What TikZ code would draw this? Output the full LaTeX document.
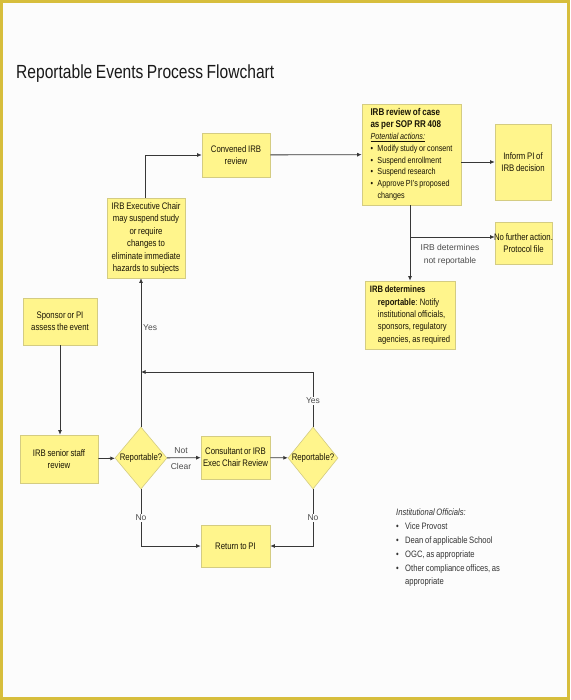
\documentclass[tikz,border=0pt]{standalone}
\usepackage{fontspec}
\setmainfont{Liberation Sans}[FakeStretch=0.82, WordSpace=0.8]
\newfontfamily\plainsans{Liberation Sans}
\usetikzlibrary{shapes.geometric,arrows.meta}
\definecolor{boxfill}{RGB}{255,245,140}
\definecolor{boxline}{RGB}{212,204,130}
\definecolor{framecol}{RGB}{215,190,60}
\definecolor{bgcol}{RGB}{252,252,252}
\definecolor{ink}{RGB}{25,20,5}
\definecolor{wirecol}{RGB}{55,55,55}
\newcommand{\rvhead}[1]{{\bfseries\fontsize{9.8}{12}\selectfont #1}}
\begin{document}
\begin{tikzpicture}[x=1pt,y=-1pt,
  box/.style={draw=boxline, fill=boxfill, line width=0.6pt, inner sep=2pt,
    align=center, text=ink, font=\fontsize{9.5}{12.2}\selectfont},
  dia/.style={diamond, draw=boxline, fill=boxfill, inner sep=0pt, line width=0.6pt,
    text=ink, font=\fontsize{9.5}{11}\selectfont},
  wire/.style={draw=wirecol, line width=0.8pt},
  arr/.style={wire, -{Latex[length=4.5pt,width=4pt]}},
  lbl/.style={font=\plainsans\fontsize{8.5}{11}\selectfont, text=black!70, inner sep=1pt},
  lblcut/.style={lbl, fill=bgcol},
]
\useasboundingbox (0,0) rectangle (570,700);
\fill[bgcol] (0,0) rectangle (570,700);
\draw[framecol, line width=3pt] (1.5,1.5) rectangle (568.5,698.5);

% title
\node[anchor=base west, inner sep=0pt, text=black!90,
  font=\fontsize{19}{22}\selectfont] (title) at (16,79) {Reportable Events Process Flowchart};

% boxes
\node[box, minimum width=68pt, minimum height=44pt] (conv) at (236,155) {Convened IRB\\review};
\node[box, minimum width=78pt, minimum height=80pt, font=\fontsize{9.5}{12.4}\selectfont] (exec) at (146,238)
  {IRB Executive Chair\\may suspend study\\or require\\changes to\\eliminate immediate\\hazards to subjects};
\node[box, minimum width=99pt, minimum height=101pt, align=left,
  font=\fontsize{8.8}{11.8}\selectfont] (review) at (411.5,154.5)
  {\rvhead{IRB review of case}\\
   \rvhead{as per SOP RR 408}\\
   \underline{\itshape Potential actions:}\\
   \makebox[7pt][l]{\textbullet}Modify study or consent\\
   \makebox[7pt][l]{\textbullet}Suspend enrollment\\
   \makebox[7pt][l]{\textbullet}Suspend research\\
   \makebox[7pt][l]{\textbullet}Approve PI's proposed\\
   \hspace*{7pt}changes};
\node[box, minimum width=56pt, minimum height=76pt] (inform) at (523,162) {Inform PI of\\IRB decision};
\node[box, minimum width=57pt, minimum height=42pt, inner sep=0pt] (nof) at (523.5,243)
  {\makebox[50pt]{No further action.}\\\makebox[50pt]{Protocol file}};
\node[box, minimum width=90pt, minimum height=68pt, align=left,
  font=\fontsize{9.3}{12.3}\selectfont] (rep) at (410,315)
  {\textbf{IRB determines}\\
   \hspace*{8pt}\textbf{reportable}: Notify\\
   \hspace*{8pt}institutional officials,\\
   \hspace*{8pt}sponsors, regulatory\\
   \hspace*{8pt}agencies, as required};
\node[box, minimum width=74pt, minimum height=47pt] (sponsor) at (60,321.5) {Sponsor or PI\\assess the event};
\node[box, minimum width=78pt, minimum height=48pt] (senior) at (59,459) {IRB senior staff\\review};
\node[dia, minimum width=52pt, minimum height=62pt] (d1) at (141,458) {\makebox[0pt]{Reportable?}};
\node[box, minimum width=69pt, minimum height=43pt] (consult) at (235.5,457.5) {Consultant or IRB\\Exec Chair Review};
\node[dia, minimum width=50pt, minimum height=62pt] (d2) at (313,458) {\makebox[0pt]{Reportable?}};
\node[box, minimum width=69pt, minimum height=42pt] (ret) at (235.5,546) {Return to PI};

% connectors
\draw[arr] (sponsor.south) -- (sponsor.south |- senior.north);
\draw[arr] (senior) -- (d1);
\draw[arr] (d1) -- (consult);
\draw[arr] (consult) -- (d2);
\draw[arr] (d1.north) -- (d1.north |- exec.south);
\coordinate (j1) at (141,372);
\draw[arr] (d2.north) |- (j1);
\draw[arr] (d1.south) |- (ret.west);
\draw[arr] (d2.south) |- (ret.east);
\coordinate (e1) at (145,198);
\draw[arr] (e1) |- (conv.west);
\draw[arr] (conv) -- (review);
\draw[arr] (review.east |- inform.west) -- (inform.west);
\draw[arr] (rep.north |- review.south) -- (rep.north);
\coordinate (br) at (410,237);
\draw[arr] (br) -- (br -| nof.west);

% labels
\node[lbl] (not) at (181,451) {Not};
\node[lbl] (clear) at (181,466) {Clear};
\node[lbl, anchor=west] (yes1) at (142,328) {Yes};
\node[lblcut] (yes2) at (313,401) {Yes};
\node[lblcut] (no1) at (141,518) {No};
\node[lblcut] (no2) at (313,518) {No};
\node[lbl, align=center, font=\plainsans\fontsize{8.5}{13}\selectfont] (nr) at (450,255) {IRB determines\\not reportable};

% institutional officials
\node[anchor=north west, align=left, inner sep=0pt, text=black!80,
  font=\fontsize{9.3}{13.8}\selectfont] (inst) at (396,509)
  {\textit{Institutional Officials:}\\
   \makebox[9pt][l]{\textbullet}Vice Provost\\
   \makebox[9pt][l]{\textbullet}Dean of applicable School\\
   \makebox[9pt][l]{\textbullet}OGC, as appropriate\\
   \makebox[9pt][l]{\textbullet}Other compliance offices, as\\
   \hspace*{9pt}appropriate};
\end{tikzpicture}
\end{document}
